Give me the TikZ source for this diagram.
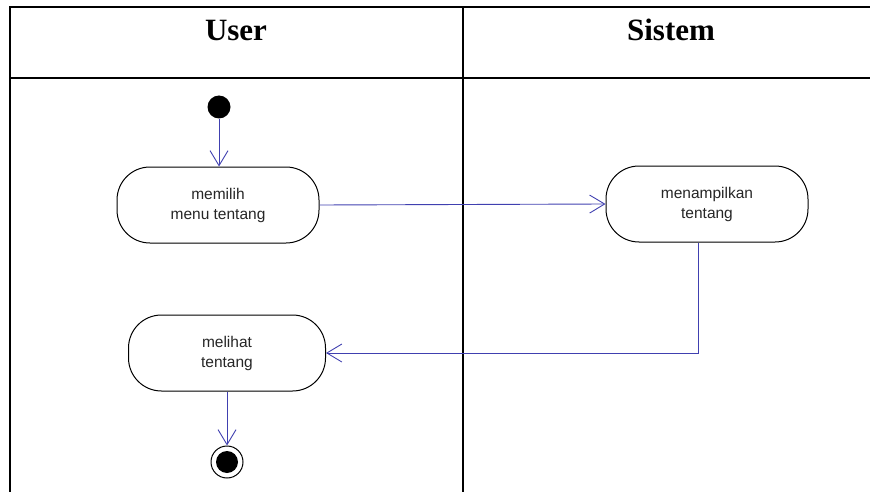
\documentclass[tikz,border=0pt]{standalone}
\usepackage{fontspec}
\setmainfont{Liberation Serif}
\newfontfamily\actfont{Liberation Sans}
\usetikzlibrary{arrows.meta,positioning}
\definecolor{flowblue}{RGB}{64,64,176}
\begin{document}
\begin{tikzpicture}[x=1pt,y=-1pt,
  lane/.style={line width=2pt,black},
  header/.style={font=\fontsize{31}{36}\selectfont\bfseries,anchor=base},
  activity/.style={draw=black,line width=1pt,fill=white,rounded corners=33pt,
    minimum height=76pt,align=center,
    font=\actfont\fontsize{15.5}{20}\selectfont,text=black!85},
  flow/.style={flowblue,line width=0.9pt,-{Straight Barb[length=15pt,width=18pt,line width=0.9pt]}},
  startnode/.style={circle,fill=black,minimum size=23pt,inner sep=0pt},
  endring/.style={circle,draw=black,line width=1pt,fill=white,minimum size=32pt,inner sep=0pt},
  enddot/.style={circle,fill=black,minimum size=22pt,inner sep=0pt}]
\useasboundingbox (0,0) rectangle (870,492);

% swimlane table
\draw[lane] (10,492) -- (10,7) -- (871,7);
\draw[lane] (9,78) -- (871,78);
\draw[lane] (463,7) -- (463,492);
\node[header] (hUser) at (236,41) {User};
\node[header] (hSistem) at (671,41) {Sistem};

% activity nodes
\node[startnode] (init) at (219,107) {};
\node[activity,minimum width=202pt] (pilih) at (218,205) {memilih\\menu tentang};
\node[activity,minimum width=202pt] (tampil) at (707,204) {menampilkan\\tentang};
\node[activity,minimum width=197pt] (lihat) at (227,353) {melihat\\tentang};
\node[endring] (final) at (227,462) {};
\node[enddot] at (final) {};

% control flows
\draw[flow] (init) -- (init |- pilih.north);
\draw[flow] (pilih.east) -- (tampil.west);
\draw[flow] ([xshift=-9pt]tampil.south) |- (lihat.east);
\draw[flow] (lihat.south) -- (final.north);
\end{tikzpicture}
\end{document}
